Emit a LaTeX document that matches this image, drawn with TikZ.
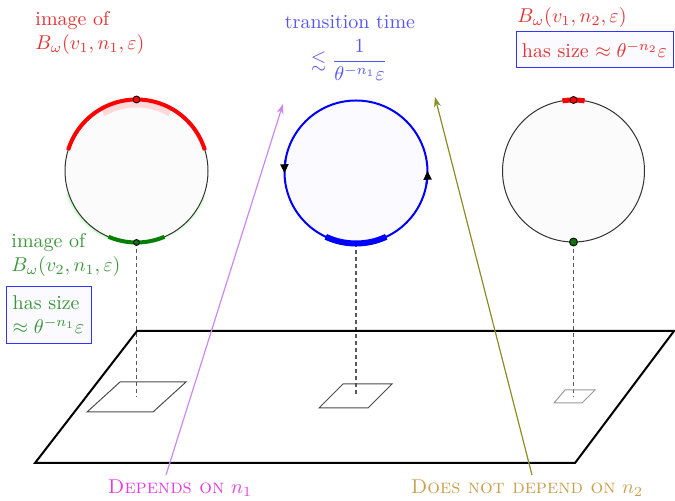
\documentclass[tikz,border=0pt]{standalone}
\usepackage{amsmath,amssymb}
\usetikzlibrary{arrows.meta}
\definecolor{txtred}{RGB}{228,50,50}
\definecolor{txtgreen}{RGB}{60,150,60}
\definecolor{txtblue}{RGB}{85,85,240}
\definecolor{violetarrow}{RGB}{205,135,240}
\definecolor{olivearrow}{RGB}{140,140,40}
\definecolor{labmag}{RGB}{230,60,230}
\definecolor{labgold}{RGB}{200,160,80}
\definecolor{dotgreen}{RGB}{20,110,20}
\begin{document}
\begin{tikzpicture}[x=0.5pt,y=0.5pt,
  thinring/.style={draw=black!80,line width=0.5pt},
  dashdrop/.style={draw=black!65,line width=0.6pt,dash pattern=on 2pt off 1.5pt},
  tile/.style={draw=black!70,line width=0.5pt},
  infobox/.style={draw=blue!80,line width=0.5pt,fill=blue!2,align=left,inner sep=2pt},
  dotmark/.style={draw=black,line width=0.4pt},
  pointer/.style={line width=0.6pt,-{Stealth[length=5pt,width=3.5pt]}},
  ccwtip/.style={draw=blue,line width=1pt,-{Triangle[length=4.5pt,width=4pt,color=black]}}
]
\useasboundingbox (0,0) rectangle (675,-501);

% ---------- centres ----------
\coordinate (lc) at (136.5,-171);
\coordinate (mc) at (356,-172);
\coordinate (rc) at (573.5,-171);

% ---------- dashed drops ----------
\coordinate (lbot) at (136.5,-242.5);
\coordinate (mbot) at (356,-243.5);
\coordinate (rbot) at (573.5,-242);
\coordinate (lsq) at (136.5,-397);
\coordinate (msq) at (356,-396);
\coordinate (rsq) at (573.5,-397);
\draw[dashdrop] (lbot) -- (lsq);
\draw[dashdrop] (mbot) -- (msq);
\draw[dashdrop] (rbot) -- (rsq);

% ---------- small tiles ----------
\draw[tile] (120,-382) -- (186,-382) -- (153,-412) -- (87,-412) -- cycle;
\draw[tile] (343,-384) -- (392,-384) -- (368,-408) -- (319,-408) -- cycle;
\draw[tile,draw=black!40] (565,-390) -- (595,-390) -- (582,-403) -- (554,-403) -- cycle;

% ---------- big plane ----------
\draw[line width=1pt] (137,-331) -- (674,-331) -- (575,-463) -- (35,-463) -- cycle;

% ---------- left circle ----------
\fill[black!1.5] (lc) circle[radius=71.5];
\draw[red!15,line width=3pt] (lc) ++(60:66.5) arc[start angle=60,end angle=120,radius=66.5];
\draw[green!20,line width=1.4pt] (lc) ++(198:72.5) arc[start angle=198,end angle=247,radius=72.5];
\draw[green!15,line width=1pt] (lc) ++(293:72.5) arc[start angle=293,end angle=340,radius=72.5];
\draw[thinring] (lc) circle[radius=71.5];
\draw[red,line width=2pt] (lc) ++(17:71.5) arc[start angle=17,end angle=163,radius=71.5];
\draw[green!50!black,line width=2pt] (lc) ++(247:71.5) arc[start angle=247,end angle=293,radius=71.5];
\filldraw[dotmark,fill=red] (lc) ++(90:71.5) circle[radius=3.5];
\filldraw[dotmark,fill=dotgreen] (lbot) circle[radius=3];

% ---------- middle circle ----------
\filldraw[fill=blue!2,draw=blue,line width=1pt] (mc) circle[radius=71.5];
\draw[blue,line width=3pt] (mc) ++(245:71.5) arc[start angle=245,end angle=295,radius=71.5];
\draw[ccwtip] (mc) ++(170:71.5) arc[start angle=170,end angle=181,radius=71.5];
\draw[ccwtip] (mc) ++(350:71.5) arc[start angle=350,end angle=361,radius=71.5];

% ---------- right circle ----------
\fill[black!1.5] (rc) circle[radius=71];
\draw[thinring] (rc) circle[radius=71];
\draw[red,line width=2.5pt] (rc) ++(81:71) arc[start angle=81,end angle=99,radius=71];
\filldraw[dotmark,fill=red] (rc) ++(90:71) circle[radius=3.5];
\filldraw[dotmark,fill=dotgreen] (rbot) circle[radius=4];

% ---------- texts ----------
\node[text=txtred,align=left] (redlab) at (90,-33) {image of\\$B_\omega(v_1,n_1,\varepsilon)$};
\node[text=txtgreen,align=left] (greenlab) at (66,-255) {image of\\$B_\omega(v_2,n_1,\varepsilon)$};
\node[infobox,text=txtgreen,minimum width=42.5pt,minimum height=28.5pt] (greenbox) at (48.5,-315)
  {has size\\$\approx\theta^{-n_1}\varepsilon$};
\node[text=txtblue] (transtxt) at (350,-22) {transition time};
\node[text=txtblue] (transfrac) at (349,-60) {$\lesssim\dfrac{1}{\theta^{-n_1}\varepsilon}$};
\node[text=txtred] (rightlab) at (572,-18) {$B_\omega(v_1,n_2,\varepsilon)$};
\node[infobox,text=txtred,minimum width=78.5pt,minimum height=18pt] (redbox) at (594.5,-50)
  {has size $\approx\theta^{-n_2}\varepsilon$};
\node[text=labmag] (deplab) at (180,-488) {\textsc{Depends on} $n_1$};
\node[text=labgold] (nodeplab) at (527,-488) {\textsc{Does not depend on} $n_2$};

% ---------- pointers ----------
\coordinate (vstart) at (166,-475);
\coordinate (vend) at (283,-104);
\coordinate (ostart) at (532,-475);
\coordinate (oend) at (435,-97);
\draw[pointer,violetarrow] (vstart) -- (vend);
\draw[pointer,olivearrow] (ostart) -- (oend);
\end{tikzpicture}
\end{document}
